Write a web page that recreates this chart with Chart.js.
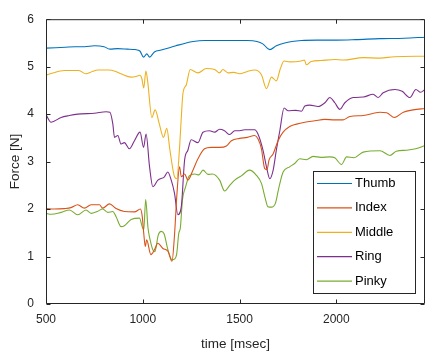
<!DOCTYPE html>
<html>
<head>
<meta charset="utf-8">
<script src="https://cdn.jsdelivr.net/npm/chart.js@4.4.1/dist/chart.umd.min.js"></script>
<style>
body{margin:0;background:#fff;}
</style>
</head>
<body>
<canvas id="forceChart" width="425" height="358"></canvas>
<script>
// finger force traces (time in msec, force in N)
var fingers=['Thumb','Index','Middle','Ring','Pinky'];
var colors=['#0072BD','#D95319','#EDB120','#7E2F8E','#77AC30'];
var xTicks=[500,1000,1500,2000];
var yTicks=[0,1,2,3,4,5,6];

var thumbT=[500,550,600,650,700,750,800,830,870,920,960,985,1004,1021,1035,1060,1095,1138,1171,1224,1260,1320,1400,1470,1540,1590,1620,1656,1690,1733,1820,1900,2000,2100,2225,2350,2458];
var thumbF=[5.39,5.40,5.41,5.42,5.42,5.44,5.42,5.37,5.38,5.37,5.36,5.33,5.20,5.27,5.20,5.31,5.35,5.40,5.44,5.50,5.53,5.55,5.55,5.55,5.55,5.53,5.48,5.36,5.44,5.50,5.55,5.56,5.56,5.57,5.59,5.60,5.62];

var indexT=[500,543,595,629,664,698,733,776,793,828,862,905,957,988,997,1005,1013,1020,1042,1060,1078,1104,1130,1151,1164,1176,1190,1199,1216,1233,1259,1285,1319,1354,1397,1432,1458,1500,1540,1578,1595,1613,1630,1642,1652,1673,1699,1725,1759,1794,1837,1889,1940,1992,2035,2070,2139,2225,2260,2300,2346,2397,2458];
var indexF=[2.01,2.00,2.01,2.03,2.09,2.02,2.09,2.09,2.02,2.11,2.01,1.95,1.94,2.00,1.85,1.49,1.21,1.35,1.04,1.14,1.28,1.17,1.11,0.90,1.46,2.29,2.89,2.68,2.74,2.61,2.82,3.06,3.27,3.30,3.30,3.33,3.44,3.49,3.51,3.55,3.48,3.27,2.85,2.83,3.03,3.16,3.44,3.62,3.74,3.79,3.83,3.86,3.89,3.88,3.88,3.95,3.97,4.04,4.03,3.93,4.04,4.09,4.12];

var middleT=[500,530,595,670,705,740,767,822,860,888,940,970,985,995,1005,1016,1025,1047,1064,1085,1107,1124,1140,1164,1176,1190,1199,1207,1225,1245,1285,1328,1371,1397,1414,1440,1470,1500,1540,1578,1613,1639,1665,1690,1710,1730,1760,1818,1835,1845,1870,1920,1992,2035,2139,2225,2300,2458];
var middleF=[4.82,4.86,4.92,4.92,4.85,4.90,4.93,4.93,4.90,4.85,4.78,4.80,4.82,4.75,4.55,4.91,4.70,3.93,4.09,3.80,3.51,3.70,3.25,2.68,2.64,3.30,3.93,4.42,4.62,4.94,4.87,4.96,4.94,4.87,4.94,4.87,4.88,4.85,4.90,4.93,4.83,4.54,4.78,4.70,4.95,5.12,5.10,5.12,5.14,5.04,5.11,5.13,5.15,5.14,5.19,5.18,5.21,5.22];

var ringT=[500,526,578,620,664,750,811,830,845,854,871,888,905,931,957,986,1004,1017,1035,1052,1078,1112,1129,1147,1164,1181,1199,1216,1233,1250,1285,1311,1345,1371,1397,1422,1449,1475,1500,1526,1578,1595,1621,1639,1656,1673,1690,1708,1730,1751,1790,1820,1837,1863,1906,1941,1966,1992,2018,2044,2087,2139,2190,2216,2242,2303,2340,2380,2411,2435,2458];
var ringF=[3.99,3.83,3.93,3.97,4.00,4.02,4.05,4.04,3.80,3.51,3.55,3.37,3.40,3.27,3.44,3.62,3.30,3.58,2.89,2.47,2.61,2.68,2.78,2.61,2.33,1.88,2.05,3.03,3.24,3.46,3.40,3.62,3.65,3.62,3.68,3.65,3.57,3.65,3.65,3.67,3.67,3.58,3.24,2.89,2.64,2.81,3.24,3.65,4.13,4.07,4.08,4.06,4.17,4.19,4.16,4.24,4.35,4.24,4.10,4.24,4.35,4.36,4.42,4.35,4.45,4.52,4.48,4.35,4.52,4.46,4.52];

var pinkyT=[500,526,578,621,664,707,733,765,793,819,845,862,888,905,940,983,997,1005,1015,1027,1038,1052,1062,1080,1095,1110,1130,1152,1165,1175,1186,1194,1205,1220,1240,1268,1290,1311,1337,1360,1397,1423,1449,1475,1509,1552,1587,1613,1633,1646,1665,1685,1704,1725,1759,1785,1811,1845,1880,1920,1966,1992,2027,2053,2090,2139,2225,2277,2310,2363,2410,2458];
var pinkyF=[1.91,1.89,1.93,1.98,1.88,1.98,1.91,1.95,2.00,1.93,1.95,1.84,1.63,1.65,1.78,1.81,1.63,1.56,2.20,1.60,1.35,1.14,1.10,1.45,1.53,1.48,1.14,0.93,0.95,1.05,1.49,1.60,2.20,2.45,2.70,2.74,2.72,2.82,2.73,2.74,2.61,2.38,2.50,2.61,2.70,2.82,2.71,2.54,2.22,2.05,2.04,2.12,2.47,2.78,2.89,2.96,3.06,3.04,3.11,3.09,3.10,3.08,2.94,3.10,3.08,3.20,3.23,3.13,3.22,3.24,3.27,3.34];

var times=[thumbT,indexT,middleT,ringT,pinkyT];
var forces=[thumbF,indexF,middleF,ringF,pinkyF];

function pts(t,f){
    var out=[];
    for(var i=0;i<t.length;i++) out.push({x:t[i],y:f[i]});
    return out;
}

var datasets=fingers.map(function(name,i){
    return {
        label:name,
        data:pts(times[i],forces[i]),
        borderColor:colors[i],
        borderWidth:1.1,
        pointRadius:0,
        fill:false,
        cubicInterpolationMode:'monotone'
    };
});

var axisColor='#262626';
var fontFam='"Liberation Sans", Arial, Helvetica, sans-serif';

// box round the axes with inward ticks, matlab style
var frame={
    id:'frame',
    afterDatasetsDraw:function(chart){
        var ctx=chart.ctx, a=chart.chartArea, x=chart.scales.x, y=chart.scales.y;
        var L=a.left+0.5, R=a.right-0.5, T=a.top+0.5, B=a.bottom-0.5;
        ctx.save();
        ctx.strokeStyle=axisColor;
        ctx.lineWidth=1;
        ctx.beginPath();
        ctx.moveTo(L,T);ctx.lineTo(R,T);ctx.lineTo(R,B);ctx.lineTo(L,B);ctx.closePath();
        xTicks.forEach(function(v){
            var px=Math.round(x.getPixelForValue(v))+0.5;
            ctx.moveTo(px,B);ctx.lineTo(px,B-4);
            ctx.moveTo(px,T);ctx.lineTo(px,T+4);
        });
        yTicks.forEach(function(v){
            var py=Math.round(y.getPixelForValue(v))+0.5;
            ctx.moveTo(L,py);ctx.lineTo(L+4,py);
            ctx.moveTo(R,py);ctx.lineTo(R-4,py);
        });
        ctx.stroke();
        ctx.restore();
    },
    afterDraw:function(chart){
        var ctx=chart.ctx;
        var bx=313.5, by=171.5, bw=102, bh=122;
        ctx.save();
        ctx.fillStyle='#fff';
        ctx.fillRect(bx,by,bw,bh);
        ctx.strokeStyle=axisColor;
        ctx.lineWidth=1;
        ctx.strokeRect(bx,by,bw,bh);
        ctx.font='13px '+fontFam;
        ctx.textBaseline='middle';
        ctx.textAlign='left';
        chart.data.datasets.forEach(function(ds,i){
            var ly=183.5+i*24.4;
            ctx.strokeStyle=ds.borderColor;
            ctx.lineWidth=1.2;
            ctx.beginPath();
            ctx.moveTo(317,ly);ctx.lineTo(352,ly);
            ctx.stroke();
            ctx.fillStyle='#000';
            ctx.fillText(ds.label,355,ly);
        });
        ctx.restore();
    }
};

new Chart(document.getElementById('forceChart'),{
    type:'line',
    data:{datasets:datasets},
    options:{
        responsive:false,
        animation:false,
        devicePixelRatio:1,
        layout:{padding:{top:16,right:0,left:0,bottom:0}},
        plugins:{legend:{display:false},tooltip:{enabled:false}},
        scales:{
            x:{
                type:'linear',
                min:500,
                max:2458,
                afterBuildTicks:function(s){s.ticks=xTicks.map(function(v){return {value:v};});},
                afterFit:function(s){s.height=54;},
                grid:{display:false,drawTicks:false},
                border:{display:false},
                ticks:{color:axisColor,padding:8,maxRotation:0,font:{family:fontFam,size:12},
                    callback:function(v){return String(v);}},
                title:{display:true,text:'time [msec]',color:axisColor,padding:{top:0,bottom:6},font:{family:fontFam,size:13.5}}
            },
            y:{
                type:'linear',
                min:0,
                max:6,
                afterBuildTicks:function(s){s.ticks=yTicks.map(function(v){return {value:v};});},
                afterFit:function(s){s.width=46;},
                grid:{display:false,drawTicks:false},
                border:{display:false},
                ticks:{color:axisColor,padding:12,font:{family:fontFam,size:12}},
                title:{display:true,text:'Force [N]',color:axisColor,padding:{top:7,bottom:0},font:{family:fontFam,size:13.5}}
            }
        }
    },
    plugins:[frame]
});
</script>
</body>
</html>
